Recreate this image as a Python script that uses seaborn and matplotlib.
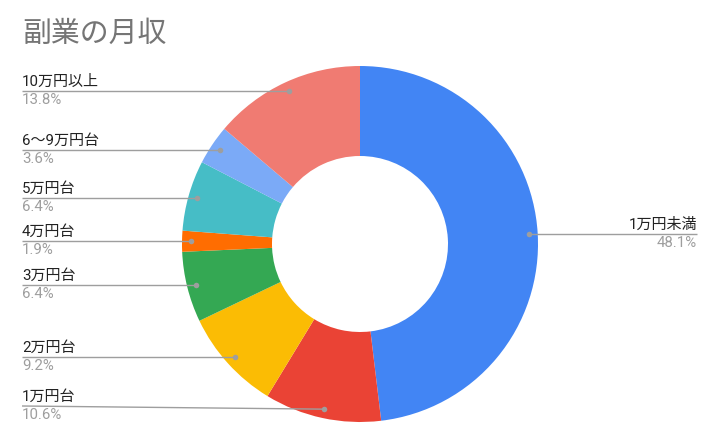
import numpy as np
import matplotlib
matplotlib.use('Agg')
import matplotlib.pyplot as plt
import seaborn as sns

# データ（時計回り、12時の位置から）
labels = ['1万円未満', '1万円台', '2万円台', '3万円台', '4万円台', '5万円台', '6〜9万円台', '10万円以上']
values = [48.1, 10.6, 9.2, 6.4, 1.9, 6.4, 3.6, 13.8]
pct_labels = ['48.1%', '10.6%', '9.2%', '6.4%', '1.9%', '6.4%', '3.6%', '13.8%']
colors = ['#4285F4', '#EA4335', '#FBBC04', '#34A853', '#FF6D01', '#46BDC6', '#7BAAF7', '#F07B72']

sns.set_theme(style='white')
plt.rcParams['font.family'] = ['Roboto', 'Noto Sans CJK JP', 'DejaVu Sans']

W, H = 720, 445
fig = plt.figure(figsize=(W / 100, H / 100), dpi=100)
ax = fig.add_axes([0, 0, 1, 1])

# ピクセル座標で作図（y は下から）
cx, cy = 360, H - 244
r_out, r_in = 178, 88

wedges, _ = ax.pie(values, colors=sns.color_palette(colors), startangle=90, counterclock=False,
                   radius=r_out, center=(cx, cy),
                   wedgeprops=dict(width=r_out - r_in, linewidth=0))

ax.set_xlim(0, W)
ax.set_ylim(0, H)
ax.set_aspect('equal')
ax.axis('off')

line_col = '#9e9e9e'
fs = 10.8
for i, w in enumerate(wedges):
    mid = np.deg2rad((w.theta1 + w.theta2) / 2)
    dx = cx + 169 * np.cos(mid)
    dy = cy + 169 * np.sin(mid)
    if dx > cx:
        x_end = 697
        ly = dy
        ax.plot([dx, x_end], [ly, ly], color=line_col, lw=1, solid_capstyle='butt')
        ax.text(x_end, ly + 2, labels[i], ha='right', va='bottom', fontsize=fs, color='#222222')
        ax.text(x_end, ly - 2, pct_labels[i], ha='right', va='top', fontsize=fs, color='#9e9e9e')
    else:
        x_end = 22
        ly = max(dy, H - 406)
        ax.plot([x_end, dx], [ly, dy], color=line_col, lw=1, solid_capstyle='butt')
        ax.text(x_end, ly + 2, labels[i], ha='left', va='bottom', fontsize=fs, color='#222222')
        ax.text(x_end, ly - 2, pct_labels[i], ha='left', va='top', fontsize=fs, color='#9e9e9e')
    ax.plot(dx, dy, 'o', color=line_col, markersize=4, markeredgewidth=0)

ax.text(22, H - 42, '副業の月収', ha='left', va='baseline', fontsize=20.8, color='#757575')

fig.savefig('out.png', dpi=100)
